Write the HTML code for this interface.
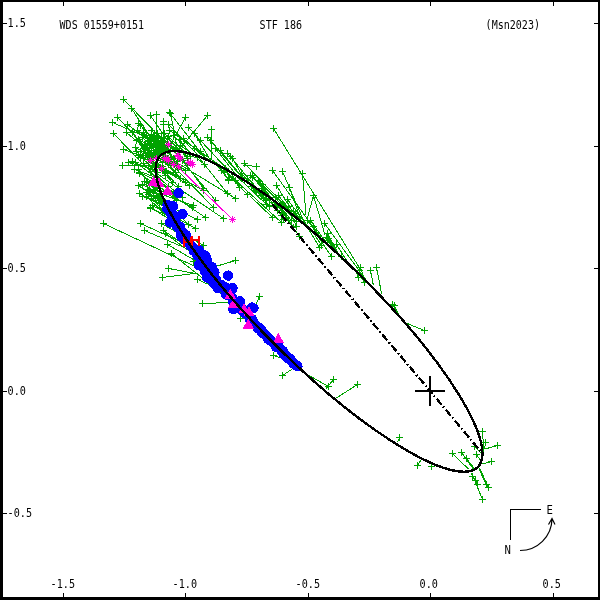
<!DOCTYPE html><html><head><meta charset="utf-8"><title>WDS 01559+0151 STF 186 (Msn2023)</title><style>html,body{margin:0;padding:0;background:#fff}svg{display:block}</style></head><body><svg width="600" height="600" viewBox="0 0 600 600"><rect width="600" height="600" fill="#fff"/><g shape-rendering="crispEdges" fill="none">
<line x1="482.5" y1="431.5" x2="484.0" y2="453.0" stroke="#00a300" stroke-width="1"/>
<path d="M479.0 431.5H486.0M482.5 428.0V435.0" stroke="#00a300" stroke-width="1"/>
<line x1="485.5" y1="442.5" x2="484.5" y2="449.0" stroke="#00a300" stroke-width="1"/>
<path d="M482.0 442.5H489.0M485.5 439.0V446.0" stroke="#00a300" stroke-width="1"/>
<line x1="497.5" y1="445.5" x2="485.0" y2="449.0" stroke="#00a300" stroke-width="1"/>
<path d="M494.0 445.5H501.0M497.5 442.0V449.0" stroke="#00a300" stroke-width="1"/>
<line x1="474.5" y1="446.5" x2="481.0" y2="453.0" stroke="#00a300" stroke-width="1"/>
<path d="M471.0 446.5H478.0M474.5 443.0V450.0" stroke="#00a300" stroke-width="1"/>
<line x1="476.5" y1="454.5" x2="481.0" y2="461.0" stroke="#00a300" stroke-width="1"/>
<path d="M473.0 454.5H480.0M476.5 451.0V458.0" stroke="#00a300" stroke-width="1"/>
<line x1="491.5" y1="461.5" x2="482.5" y2="464.0" stroke="#00a300" stroke-width="1"/>
<path d="M488.0 461.5H495.0M491.5 458.0V465.0" stroke="#00a300" stroke-width="1"/>
<line x1="452.5" y1="453.5" x2="468.7" y2="469.3" stroke="#00a300" stroke-width="1"/>
<path d="M449.0 453.5H456.0M452.5 450.0V457.0" stroke="#00a300" stroke-width="1"/>
<line x1="461.5" y1="452.5" x2="474.0" y2="470.0" stroke="#00a300" stroke-width="1"/>
<path d="M458.0 452.5H465.0M461.5 449.0V456.0" stroke="#00a300" stroke-width="1"/>
<line x1="466.5" y1="458.5" x2="475.0" y2="469.5" stroke="#00a300" stroke-width="1"/>
<path d="M463.0 458.5H470.0M466.5 455.0V462.0" stroke="#00a300" stroke-width="1"/>
<line x1="486.5" y1="484.5" x2="478.7" y2="468.7" stroke="#00a300" stroke-width="1"/>
<path d="M483.0 484.5H490.0M486.5 481.0V488.0" stroke="#00a300" stroke-width="1"/>
<line x1="488.5" y1="487.5" x2="479.5" y2="468.0" stroke="#00a300" stroke-width="1"/>
<path d="M485.0 487.5H492.0M488.5 484.0V491.0" stroke="#00a300" stroke-width="1"/>
<line x1="472.5" y1="476.5" x2="471.3" y2="472.7" stroke="#00a300" stroke-width="1"/>
<path d="M469.0 476.5H476.0M472.5 473.0V480.0" stroke="#00a300" stroke-width="1"/>
<line x1="475.5" y1="480.5" x2="471.3" y2="472.7" stroke="#00a300" stroke-width="1"/>
<path d="M472.0 480.5H479.0M475.5 477.0V484.0" stroke="#00a300" stroke-width="1"/>
<line x1="477.5" y1="484.5" x2="471.5" y2="472.7" stroke="#00a300" stroke-width="1"/>
<path d="M474.0 484.5H481.0M477.5 481.0V488.0" stroke="#00a300" stroke-width="1"/>
<line x1="482.5" y1="499.5" x2="471.5" y2="472.7" stroke="#00a300" stroke-width="1"/>
<path d="M479.0 499.5H486.0M482.5 496.0V503.0" stroke="#00a300" stroke-width="1"/>
<line x1="417.5" y1="465.5" x2="421.0" y2="460.0" stroke="#00a300" stroke-width="1"/>
<path d="M414.0 465.5H421.0M417.5 462.0V469.0" stroke="#00a300" stroke-width="1"/>
<line x1="431.5" y1="466.5" x2="431.1" y2="462.9" stroke="#00a300" stroke-width="1"/>
<path d="M428.0 466.5H435.0M431.5 463.0V470.0" stroke="#00a300" stroke-width="1"/>
<line x1="399.5" y1="437.5" x2="397.5" y2="442.5" stroke="#00a300" stroke-width="1"/>
<path d="M396.0 437.5H403.0M399.5 434.0V441.0" stroke="#00a300" stroke-width="1"/>
<line x1="357.5" y1="384.5" x2="336.3" y2="398.0" stroke="#00a300" stroke-width="1"/>
<path d="M354.0 384.5H361.0M357.5 381.0V388.0" stroke="#00a300" stroke-width="1"/>
<line x1="333.5" y1="379.5" x2="325.5" y2="389.5" stroke="#00a300" stroke-width="1"/>
<path d="M330.0 379.5H337.0M333.5 376.0V383.0" stroke="#00a300" stroke-width="1"/>
<line x1="328.5" y1="386.5" x2="309.3" y2="375.7" stroke="#00a300" stroke-width="1"/>
<path d="M325.0 386.5H332.0M328.5 383.0V390.0" stroke="#00a300" stroke-width="1"/>
<line x1="282.5" y1="375.5" x2="292.5" y2="368.8" stroke="#00a300" stroke-width="1"/>
<path d="M279.0 375.5H286.0M282.5 372.0V379.0" stroke="#00a300" stroke-width="1"/>
<line x1="273.5" y1="355.5" x2="293.0" y2="362.1" stroke="#00a300" stroke-width="1"/>
<path d="M270.0 355.5H277.0M273.5 352.0V359.0" stroke="#00a300" stroke-width="1"/>
<line x1="259.5" y1="296.5" x2="255.8" y2="304.5" stroke="#00a300" stroke-width="1"/>
<path d="M256.0 296.5H263.0M259.5 293.0V300.0" stroke="#00a300" stroke-width="1"/>
<line x1="240.5" y1="318.5" x2="241.5" y2="312.0" stroke="#00a300" stroke-width="1"/>
<path d="M237.0 318.5H244.0M240.5 315.0V322.0" stroke="#00a300" stroke-width="1"/>
<line x1="235.5" y1="260.5" x2="216.3" y2="266.3" stroke="#00a300" stroke-width="1"/>
<path d="M232.0 260.5H239.0M235.5 257.0V264.0" stroke="#00a300" stroke-width="1"/>
<line x1="202.5" y1="303.5" x2="230.0" y2="302.5" stroke="#00a300" stroke-width="1"/>
<path d="M199.0 303.5H206.0M202.5 300.0V307.0" stroke="#00a300" stroke-width="1"/>
<line x1="197.5" y1="279.5" x2="226.8" y2="292.5" stroke="#00a300" stroke-width="1"/>
<path d="M194.0 279.5H201.0M197.5 276.0V283.0" stroke="#00a300" stroke-width="1"/>
<line x1="203.5" y1="245.5" x2="182.5" y2="233.3" stroke="#00a300" stroke-width="1"/>
<path d="M200.0 245.5H207.0M203.5 242.0V249.0" stroke="#00a300" stroke-width="1"/>
<line x1="424.5" y1="330.5" x2="406.0" y2="323.0" stroke="#00a300" stroke-width="1"/>
<path d="M421.0 330.5H428.0M424.5 327.0V334.0" stroke="#00a300" stroke-width="1"/>
<line x1="392.5" y1="304.5" x2="402.3" y2="319.9" stroke="#00a300" stroke-width="1"/>
<path d="M389.0 304.5H396.0M392.5 301.0V308.0" stroke="#00a300" stroke-width="1"/>
<line x1="394.5" y1="305.5" x2="399.0" y2="316.2" stroke="#00a300" stroke-width="1"/>
<path d="M391.0 305.5H398.0M394.5 302.0V309.0" stroke="#00a300" stroke-width="1"/>
<line x1="376.5" y1="267.5" x2="381.7" y2="294.2" stroke="#00a300" stroke-width="1"/>
<path d="M373.0 267.5H380.0M376.5 264.0V271.0" stroke="#00a300" stroke-width="1"/>
<line x1="370.5" y1="270.5" x2="373.3" y2="285.0" stroke="#00a300" stroke-width="1"/>
<path d="M367.0 270.5H374.0M370.5 267.0V274.0" stroke="#00a300" stroke-width="1"/>
<line x1="360.5" y1="267.5" x2="364.2" y2="279.3" stroke="#00a300" stroke-width="1"/>
<path d="M357.0 267.5H364.0M360.5 264.0V271.0" stroke="#00a300" stroke-width="1"/>
<line x1="359.5" y1="270.5" x2="362.8" y2="277.9" stroke="#00a300" stroke-width="1"/>
<path d="M356.0 270.5H363.0M359.5 267.0V274.0" stroke="#00a300" stroke-width="1"/>
<line x1="358.5" y1="277.5" x2="355.4" y2="270.6" stroke="#00a300" stroke-width="1"/>
<path d="M355.0 277.5H362.0M358.5 274.0V281.0" stroke="#00a300" stroke-width="1"/>
<line x1="364.5" y1="282.5" x2="360.2" y2="275.4" stroke="#00a300" stroke-width="1"/>
<path d="M361.0 282.5H368.0M364.5 279.0V286.0" stroke="#00a300" stroke-width="1"/>
<line x1="341.5" y1="256.5" x2="342.8" y2="258.6" stroke="#00a300" stroke-width="1"/>
<path d="M338.0 256.5H345.0M341.5 253.0V260.0" stroke="#00a300" stroke-width="1"/>
<line x1="331.5" y1="256.5" x2="317.0" y2="235.3" stroke="#00a300" stroke-width="1"/>
<path d="M328.0 256.5H335.0M331.5 253.0V260.0" stroke="#00a300" stroke-width="1"/>
<line x1="336.5" y1="244.5" x2="349.8" y2="265.2" stroke="#00a300" stroke-width="1"/>
<path d="M333.0 244.5H340.0M336.5 241.0V248.0" stroke="#00a300" stroke-width="1"/>
<line x1="319.5" y1="247.5" x2="307.5" y2="227.3" stroke="#00a300" stroke-width="1"/>
<path d="M316.0 247.5H323.0M319.5 244.0V251.0" stroke="#00a300" stroke-width="1"/>
<line x1="321.5" y1="245.5" x2="312.9" y2="231.9" stroke="#00a300" stroke-width="1"/>
<path d="M318.0 245.5H325.0M321.5 242.0V249.0" stroke="#00a300" stroke-width="1"/>
<line x1="327.5" y1="233.5" x2="339.7" y2="255.7" stroke="#00a300" stroke-width="1"/>
<path d="M324.0 233.5H331.0M327.5 230.0V237.0" stroke="#00a300" stroke-width="1"/>
<line x1="326.5" y1="237.5" x2="337.8" y2="253.9" stroke="#00a300" stroke-width="1"/>
<path d="M323.0 237.5H330.0M326.5 234.0V241.0" stroke="#00a300" stroke-width="1"/>
<line x1="327.5" y1="240.5" x2="334.3" y2="250.7" stroke="#00a300" stroke-width="1"/>
<path d="M324.0 240.5H331.0M327.5 237.0V244.0" stroke="#00a300" stroke-width="1"/>
<line x1="328.5" y1="238.5" x2="340.6" y2="256.6" stroke="#00a300" stroke-width="1"/>
<path d="M325.0 238.5H332.0M328.5 235.0V242.0" stroke="#00a300" stroke-width="1"/>
<line x1="324.5" y1="223.5" x2="369.7" y2="284.9" stroke="#00a300" stroke-width="1"/>
<path d="M321.0 223.5H328.0M324.5 220.0V227.0" stroke="#00a300" stroke-width="1"/>
<line x1="313.5" y1="226.5" x2="322.8" y2="240.4" stroke="#00a300" stroke-width="1"/>
<path d="M310.0 226.5H317.0M313.5 223.0V230.0" stroke="#00a300" stroke-width="1"/>
<line x1="310.5" y1="220.5" x2="327.6" y2="244.7" stroke="#00a300" stroke-width="1"/>
<path d="M307.0 220.5H314.0M310.5 217.0V224.0" stroke="#00a300" stroke-width="1"/>
<line x1="299.5" y1="236.5" x2="274.5" y2="201.2" stroke="#00a300" stroke-width="1"/>
<path d="M296.0 236.5H303.0M299.5 233.0V240.0" stroke="#00a300" stroke-width="1"/>
<line x1="296.5" y1="221.5" x2="283.2" y2="207.8" stroke="#00a300" stroke-width="1"/>
<path d="M293.0 221.5H300.0M296.5 218.0V225.0" stroke="#00a300" stroke-width="1"/>
<line x1="293.5" y1="211.5" x2="301.1" y2="222.0" stroke="#00a300" stroke-width="1"/>
<path d="M290.0 211.5H297.0M293.5 208.0V215.0" stroke="#00a300" stroke-width="1"/>
<line x1="281.5" y1="215.5" x2="266.9" y2="195.6" stroke="#00a300" stroke-width="1"/>
<path d="M278.0 215.5H285.0M281.5 212.0V219.0" stroke="#00a300" stroke-width="1"/>
<line x1="281.5" y1="222.5" x2="220.1" y2="166.2" stroke="#00a300" stroke-width="1"/>
<path d="M278.0 222.5H285.0M281.5 219.0V226.0" stroke="#00a300" stroke-width="1"/>
<line x1="272.5" y1="217.5" x2="250.0" y2="196.0" stroke="#00a300" stroke-width="1"/>
<path d="M269.0 217.5H276.0M272.5 214.0V221.0" stroke="#00a300" stroke-width="1"/>
<line x1="273.5" y1="128.5" x2="362.0" y2="272.0" stroke="#00a300" stroke-width="1"/>
<path d="M270.0 128.5H277.0M273.5 125.0V132.0" stroke="#00a300" stroke-width="1"/>
<line x1="302.5" y1="173.5" x2="306.0" y2="215.0" stroke="#00a300" stroke-width="1"/>
<path d="M299.0 173.5H306.0M302.5 170.0V177.0" stroke="#00a300" stroke-width="1"/>
<line x1="313.5" y1="195.5" x2="325.0" y2="235.0" stroke="#00a300" stroke-width="1"/>
<path d="M310.0 195.5H317.0M313.5 192.0V199.0" stroke="#00a300" stroke-width="1"/>
<line x1="313.5" y1="195.5" x2="307.5" y2="217.5" stroke="#00a300" stroke-width="1"/>
<path d="M310.0 195.5H317.0M313.5 192.0V199.0" stroke="#00a300" stroke-width="1"/>
<line x1="289.5" y1="187.5" x2="301.7" y2="222.4" stroke="#00a300" stroke-width="1"/>
<path d="M286.0 187.5H293.0M289.5 184.0V191.0" stroke="#00a300" stroke-width="1"/>
<line x1="276.5" y1="185.5" x2="297.2" y2="218.8" stroke="#00a300" stroke-width="1"/>
<path d="M273.0 185.5H280.0M276.5 182.0V189.0" stroke="#00a300" stroke-width="1"/>
<line x1="282.5" y1="171.5" x2="305.8" y2="225.9" stroke="#00a300" stroke-width="1"/>
<path d="M279.0 171.5H286.0M282.5 168.0V175.0" stroke="#00a300" stroke-width="1"/>
<line x1="272.5" y1="170.5" x2="322.6" y2="240.3" stroke="#00a300" stroke-width="1"/>
<path d="M269.0 170.5H276.0M272.5 167.0V174.0" stroke="#00a300" stroke-width="1"/>
<line x1="260.5" y1="183.5" x2="291.8" y2="214.5" stroke="#00a300" stroke-width="1"/>
<path d="M257.0 183.5H264.0M260.5 180.0V187.0" stroke="#00a300" stroke-width="1"/>
<line x1="252.5" y1="177.5" x2="275.7" y2="202.1" stroke="#00a300" stroke-width="1"/>
<path d="M249.0 177.5H256.0M252.5 174.0V181.0" stroke="#00a300" stroke-width="1"/>
<line x1="256.5" y1="166.5" x2="243.0" y2="165.0" stroke="#00a300" stroke-width="1"/>
<path d="M253.0 166.5H260.0M256.5 163.0V170.0" stroke="#00a300" stroke-width="1"/>
<line x1="275.5" y1="197.5" x2="284.0" y2="208.4" stroke="#00a300" stroke-width="1"/>
<path d="M272.0 197.5H279.0M275.5 194.0V201.0" stroke="#00a300" stroke-width="1"/>
<line x1="280.5" y1="203.5" x2="282.6" y2="207.3" stroke="#00a300" stroke-width="1"/>
<path d="M277.0 203.5H284.0M280.5 200.0V207.0" stroke="#00a300" stroke-width="1"/>
<line x1="258.5" y1="180.5" x2="272.6" y2="199.8" stroke="#00a300" stroke-width="1"/>
<path d="M255.0 180.5H262.0M258.5 177.0V184.0" stroke="#00a300" stroke-width="1"/>
<line x1="262.5" y1="184.5" x2="287.9" y2="211.4" stroke="#00a300" stroke-width="1"/>
<path d="M259.0 184.5H266.0M262.5 181.0V188.0" stroke="#00a300" stroke-width="1"/>
<line x1="241.5" y1="173.5" x2="252.3" y2="185.5" stroke="#00a300" stroke-width="1"/>
<path d="M238.0 173.5H245.0M241.5 170.0V177.0" stroke="#00a300" stroke-width="1"/>
<line x1="244.5" y1="163.5" x2="299.2" y2="220.4" stroke="#00a300" stroke-width="1"/>
<path d="M241.0 163.5H248.0M244.5 160.0V167.0" stroke="#00a300" stroke-width="1"/>
<line x1="232.5" y1="158.5" x2="245.2" y2="180.9" stroke="#00a300" stroke-width="1"/>
<path d="M229.0 158.5H236.0M232.5 155.0V162.0" stroke="#00a300" stroke-width="1"/>
<line x1="227.5" y1="153.5" x2="257.9" y2="189.4" stroke="#00a300" stroke-width="1"/>
<path d="M224.0 153.5H231.0M227.5 150.0V157.0" stroke="#00a300" stroke-width="1"/>
<line x1="220.5" y1="150.5" x2="244.9" y2="180.7" stroke="#00a300" stroke-width="1"/>
<path d="M217.0 150.5H224.0M220.5 147.0V154.0" stroke="#00a300" stroke-width="1"/>
<line x1="215.5" y1="148.5" x2="236.9" y2="175.8" stroke="#00a300" stroke-width="1"/>
<path d="M212.0 148.5H219.0M215.5 145.0V152.0" stroke="#00a300" stroke-width="1"/>
<line x1="210.5" y1="140.5" x2="246.9" y2="182.0" stroke="#00a300" stroke-width="1"/>
<path d="M207.0 140.5H214.0M210.5 137.0V144.0" stroke="#00a300" stroke-width="1"/>
<line x1="207.5" y1="137.5" x2="244.8" y2="180.7" stroke="#00a300" stroke-width="1"/>
<path d="M204.0 137.5H211.0M207.5 134.0V141.0" stroke="#00a300" stroke-width="1"/>
<line x1="207.5" y1="115.5" x2="177.5" y2="151.5" stroke="#00a300" stroke-width="1"/>
<path d="M204.0 115.5H211.0M207.5 112.0V119.0" stroke="#00a300" stroke-width="1"/>
<line x1="194.5" y1="133.5" x2="211.5" y2="161.9" stroke="#00a300" stroke-width="1"/>
<path d="M191.0 133.5H198.0M194.5 130.0V137.0" stroke="#00a300" stroke-width="1"/>
<line x1="188.5" y1="127.5" x2="228.7" y2="170.9" stroke="#00a300" stroke-width="1"/>
<path d="M185.0 127.5H192.0M188.5 124.0V131.0" stroke="#00a300" stroke-width="1"/>
<line x1="185.5" y1="117.5" x2="166.0" y2="152.5" stroke="#00a300" stroke-width="1"/>
<path d="M182.0 117.5H189.0M185.5 114.0V121.0" stroke="#00a300" stroke-width="1"/>
<line x1="183.5" y1="138.5" x2="207.5" y2="160.1" stroke="#00a300" stroke-width="1"/>
<path d="M180.0 138.5H187.0M183.5 135.0V142.0" stroke="#00a300" stroke-width="1"/>
<line x1="200.5" y1="140.5" x2="230.0" y2="171.7" stroke="#00a300" stroke-width="1"/>
<path d="M197.0 140.5H204.0M200.5 137.0V144.0" stroke="#00a300" stroke-width="1"/>
<line x1="180.5" y1="145.5" x2="193.1" y2="154.5" stroke="#00a300" stroke-width="1"/>
<path d="M177.0 145.5H184.0M180.5 142.0V149.0" stroke="#00a300" stroke-width="1"/>
<line x1="200.5" y1="151.5" x2="207.9" y2="160.3" stroke="#00a300" stroke-width="1"/>
<path d="M197.0 151.5H204.0M200.5 148.0V155.0" stroke="#00a300" stroke-width="1"/>
<line x1="247.5" y1="194.5" x2="220.2" y2="166.2" stroke="#00a300" stroke-width="1"/>
<path d="M244.0 194.5H251.0M247.5 191.0V198.0" stroke="#00a300" stroke-width="1"/>
<line x1="235.5" y1="198.5" x2="162.7" y2="153.8" stroke="#00a300" stroke-width="1"/>
<path d="M232.0 198.5H239.0M235.5 195.0V202.0" stroke="#00a300" stroke-width="1"/>
<line x1="227.5" y1="193.5" x2="197.7" y2="156.1" stroke="#00a300" stroke-width="1"/>
<path d="M224.0 193.5H231.0M227.5 190.0V197.0" stroke="#00a300" stroke-width="1"/>
<line x1="239.5" y1="187.5" x2="225.1" y2="168.9" stroke="#00a300" stroke-width="1"/>
<path d="M236.0 187.5H243.0M239.5 184.0V191.0" stroke="#00a300" stroke-width="1"/>
<line x1="215.5" y1="200.5" x2="174.2" y2="151.0" stroke="#00a300" stroke-width="1"/>
<path d="M212.0 200.5H219.0M215.5 197.0V204.0" stroke="#00a300" stroke-width="1"/>
<line x1="203.5" y1="188.5" x2="176.7" y2="151.1" stroke="#00a300" stroke-width="1"/>
<path d="M200.0 188.5H207.0M203.5 185.0V192.0" stroke="#00a300" stroke-width="1"/>
<line x1="252.5" y1="175.5" x2="268.4" y2="196.7" stroke="#00a300" stroke-width="1"/>
<path d="M249.0 175.5H256.0M252.5 172.0V179.0" stroke="#00a300" stroke-width="1"/>
<line x1="230.5" y1="156.5" x2="256.1" y2="188.1" stroke="#00a300" stroke-width="1"/>
<path d="M227.0 156.5H234.0M230.5 153.0V160.0" stroke="#00a300" stroke-width="1"/>
<line x1="203.5" y1="190.5" x2="156.2" y2="163.8" stroke="#00a300" stroke-width="1"/>
<path d="M200.0 190.5H207.0M203.5 187.0V194.0" stroke="#00a300" stroke-width="1"/>
<line x1="213.5" y1="207.5" x2="162.0" y2="154.3" stroke="#00a300" stroke-width="1"/>
<path d="M210.0 207.5H217.0M213.5 204.0V211.0" stroke="#00a300" stroke-width="1"/>
<line x1="223.5" y1="218.5" x2="155.9" y2="173.0" stroke="#00a300" stroke-width="1"/>
<path d="M220.0 218.5H227.0M223.5 215.0V222.0" stroke="#00a300" stroke-width="1"/>
<line x1="205.5" y1="217.5" x2="158.8" y2="186.3" stroke="#00a300" stroke-width="1"/>
<path d="M202.0 217.5H209.0M205.5 214.0V221.0" stroke="#00a300" stroke-width="1"/>
<line x1="197.5" y1="219.5" x2="166.3" y2="204.8" stroke="#00a300" stroke-width="1"/>
<path d="M194.0 219.5H201.0M197.5 216.0V223.0" stroke="#00a300" stroke-width="1"/>
<line x1="192.5" y1="207.5" x2="159.9" y2="189.8" stroke="#00a300" stroke-width="1"/>
<path d="M189.0 207.5H196.0M192.5 204.0V211.0" stroke="#00a300" stroke-width="1"/>
<line x1="195.5" y1="228.5" x2="171.5" y2="214.9" stroke="#00a300" stroke-width="1"/>
<path d="M192.0 228.5H199.0M195.5 225.0V232.0" stroke="#00a300" stroke-width="1"/>
<line x1="188.5" y1="224.5" x2="162.9" y2="197.3" stroke="#00a300" stroke-width="1"/>
<path d="M185.0 224.5H192.0M188.5 221.0V228.0" stroke="#00a300" stroke-width="1"/>
<line x1="193.5" y1="205.5" x2="161.6" y2="194.3" stroke="#00a300" stroke-width="1"/>
<path d="M190.0 205.5H197.0M193.5 202.0V209.0" stroke="#00a300" stroke-width="1"/>
<line x1="193.5" y1="261.5" x2="204.1" y2="264.1" stroke="#00a300" stroke-width="1"/>
<path d="M190.0 261.5H197.0M193.5 258.0V265.0" stroke="#00a300" stroke-width="1"/>
<line x1="123.5" y1="99.5" x2="173.8" y2="151.0" stroke="#00a300" stroke-width="1"/>
<path d="M120.0 99.5H127.0M123.5 96.0V103.0" stroke="#00a300" stroke-width="1"/>
<line x1="131.5" y1="108.5" x2="161.7" y2="154.5" stroke="#00a300" stroke-width="1"/>
<path d="M128.0 108.5H135.0M131.5 105.0V112.0" stroke="#00a300" stroke-width="1"/>
<line x1="117.5" y1="117.5" x2="157.7" y2="159.3" stroke="#00a300" stroke-width="1"/>
<path d="M114.0 117.5H121.0M117.5 114.0V121.0" stroke="#00a300" stroke-width="1"/>
<line x1="112.5" y1="122.5" x2="180.3" y2="151.5" stroke="#00a300" stroke-width="1"/>
<path d="M109.0 122.5H116.0M112.5 119.0V126.0" stroke="#00a300" stroke-width="1"/>
<line x1="113.5" y1="133.5" x2="156.5" y2="178.0" stroke="#00a300" stroke-width="1"/>
<path d="M110.0 133.5H117.0M113.5 130.0V137.0" stroke="#00a300" stroke-width="1"/>
<line x1="126.5" y1="132.5" x2="158.0" y2="158.8" stroke="#00a300" stroke-width="1"/>
<path d="M123.0 132.5H130.0M126.5 129.0V136.0" stroke="#00a300" stroke-width="1"/>
<line x1="138.5" y1="123.5" x2="166.4" y2="152.1" stroke="#00a300" stroke-width="1"/>
<path d="M135.0 123.5H142.0M138.5 120.0V127.0" stroke="#00a300" stroke-width="1"/>
<line x1="137.5" y1="130.5" x2="167.7" y2="151.8" stroke="#00a300" stroke-width="1"/>
<path d="M134.0 130.5H141.0M137.5 127.0V134.0" stroke="#00a300" stroke-width="1"/>
<line x1="156.5" y1="114.5" x2="157.0" y2="161.0" stroke="#00a300" stroke-width="1"/>
<path d="M153.0 114.5H160.0M156.5 111.0V118.0" stroke="#00a300" stroke-width="1"/>
<line x1="163.5" y1="121.5" x2="164.0" y2="153.0" stroke="#00a300" stroke-width="1"/>
<path d="M160.0 121.5H167.0M163.5 118.0V125.0" stroke="#00a300" stroke-width="1"/>
<line x1="163.5" y1="124.5" x2="165.0" y2="153.0" stroke="#00a300" stroke-width="1"/>
<path d="M160.0 124.5H167.0M163.5 121.0V128.0" stroke="#00a300" stroke-width="1"/>
<line x1="169.5" y1="112.5" x2="205.0" y2="158.0" stroke="#00a300" stroke-width="1"/>
<path d="M166.0 112.5H173.0M169.5 109.0V116.0" stroke="#00a300" stroke-width="1"/>
<line x1="170.5" y1="113.5" x2="178.0" y2="152.0" stroke="#00a300" stroke-width="1"/>
<path d="M167.0 113.5H174.0M170.5 110.0V117.0" stroke="#00a300" stroke-width="1"/>
<line x1="169.5" y1="130.5" x2="224.8" y2="168.7" stroke="#00a300" stroke-width="1"/>
<path d="M166.0 130.5H173.0M169.5 127.0V134.0" stroke="#00a300" stroke-width="1"/>
<line x1="211.5" y1="129.5" x2="212.0" y2="160.0" stroke="#00a300" stroke-width="1"/>
<path d="M208.0 129.5H215.0M211.5 126.0V133.0" stroke="#00a300" stroke-width="1"/>
<line x1="123.5" y1="149.5" x2="156.5" y2="161.5" stroke="#00a300" stroke-width="1"/>
<path d="M120.0 149.5H127.0M123.5 146.0V153.0" stroke="#00a300" stroke-width="1"/>
<line x1="136.5" y1="151.5" x2="155.9" y2="173.0" stroke="#00a300" stroke-width="1"/>
<path d="M133.0 151.5H140.0M136.5 148.0V155.0" stroke="#00a300" stroke-width="1"/>
<line x1="128.5" y1="162.5" x2="156.5" y2="170.0" stroke="#00a300" stroke-width="1"/>
<path d="M125.0 162.5H132.0M128.5 159.0V166.0" stroke="#00a300" stroke-width="1"/>
<line x1="122.5" y1="165.5" x2="156.0" y2="166.0" stroke="#00a300" stroke-width="1"/>
<path d="M119.0 165.5H126.0M122.5 162.0V169.0" stroke="#00a300" stroke-width="1"/>
<line x1="132.5" y1="161.5" x2="157.0" y2="172.0" stroke="#00a300" stroke-width="1"/>
<path d="M129.0 161.5H136.0M132.5 158.0V165.0" stroke="#00a300" stroke-width="1"/>
<line x1="134.5" y1="169.5" x2="157.5" y2="178.0" stroke="#00a300" stroke-width="1"/>
<path d="M131.0 169.5H138.0M134.5 166.0V173.0" stroke="#00a300" stroke-width="1"/>
<line x1="139.5" y1="172.5" x2="158.0" y2="181.0" stroke="#00a300" stroke-width="1"/>
<path d="M136.0 172.5H143.0M139.5 169.0V176.0" stroke="#00a300" stroke-width="1"/>
<line x1="143.5" y1="132.5" x2="160.8" y2="155.2" stroke="#00a300" stroke-width="1"/>
<path d="M140.0 132.5H147.0M143.5 129.0V136.0" stroke="#00a300" stroke-width="1"/>
<line x1="146.5" y1="135.5" x2="165.1" y2="152.6" stroke="#00a300" stroke-width="1"/>
<path d="M143.0 135.5H150.0M146.5 132.0V139.0" stroke="#00a300" stroke-width="1"/>
<line x1="151.5" y1="134.5" x2="168.6" y2="151.5" stroke="#00a300" stroke-width="1"/>
<path d="M148.0 134.5H155.0M151.5 131.0V138.0" stroke="#00a300" stroke-width="1"/>
<line x1="142.5" y1="137.5" x2="160.4" y2="155.6" stroke="#00a300" stroke-width="1"/>
<path d="M139.0 137.5H146.0M142.5 134.0V141.0" stroke="#00a300" stroke-width="1"/>
<line x1="148.5" y1="140.5" x2="159.3" y2="156.8" stroke="#00a300" stroke-width="1"/>
<path d="M145.0 140.5H152.0M148.5 137.0V144.0" stroke="#00a300" stroke-width="1"/>
<line x1="153.5" y1="138.5" x2="165.9" y2="152.3" stroke="#00a300" stroke-width="1"/>
<path d="M150.0 138.5H157.0M153.5 135.0V142.0" stroke="#00a300" stroke-width="1"/>
<line x1="157.5" y1="136.5" x2="170.8" y2="151.2" stroke="#00a300" stroke-width="1"/>
<path d="M154.0 136.5H161.0M157.5 133.0V140.0" stroke="#00a300" stroke-width="1"/>
<line x1="159.5" y1="143.5" x2="167.6" y2="151.8" stroke="#00a300" stroke-width="1"/>
<path d="M156.0 143.5H163.0M159.5 140.0V147.0" stroke="#00a300" stroke-width="1"/>
<line x1="155.5" y1="145.5" x2="167.8" y2="151.7" stroke="#00a300" stroke-width="1"/>
<path d="M152.0 145.5H159.0M155.5 142.0V149.0" stroke="#00a300" stroke-width="1"/>
<line x1="150.5" y1="145.5" x2="159.1" y2="157.0" stroke="#00a300" stroke-width="1"/>
<path d="M147.0 145.5H154.0M150.5 142.0V149.0" stroke="#00a300" stroke-width="1"/>
<line x1="145.5" y1="144.5" x2="157.8" y2="159.0" stroke="#00a300" stroke-width="1"/>
<path d="M142.0 144.5H149.0M145.5 141.0V148.0" stroke="#00a300" stroke-width="1"/>
<line x1="158.5" y1="148.5" x2="163.2" y2="153.5" stroke="#00a300" stroke-width="1"/>
<path d="M155.0 148.5H162.0M158.5 145.0V152.0" stroke="#00a300" stroke-width="1"/>
<line x1="153.5" y1="150.5" x2="162.4" y2="154.0" stroke="#00a300" stroke-width="1"/>
<path d="M150.0 150.5H157.0M153.5 147.0V154.0" stroke="#00a300" stroke-width="1"/>
<line x1="149.5" y1="152.5" x2="158.2" y2="158.4" stroke="#00a300" stroke-width="1"/>
<path d="M146.0 152.5H153.0M149.5 149.0V156.0" stroke="#00a300" stroke-width="1"/>
<line x1="145.5" y1="155.5" x2="155.8" y2="166.6" stroke="#00a300" stroke-width="1"/>
<path d="M142.0 155.5H149.0M145.5 152.0V159.0" stroke="#00a300" stroke-width="1"/>
<line x1="140.5" y1="157.5" x2="156.2" y2="163.7" stroke="#00a300" stroke-width="1"/>
<path d="M137.0 157.5H144.0M140.5 154.0V161.0" stroke="#00a300" stroke-width="1"/>
<line x1="135.5" y1="162.5" x2="156.6" y2="177.8" stroke="#00a300" stroke-width="1"/>
<path d="M132.0 162.5H139.0M135.5 159.0V166.0" stroke="#00a300" stroke-width="1"/>
<line x1="143.5" y1="163.5" x2="156.6" y2="177.9" stroke="#00a300" stroke-width="1"/>
<path d="M140.0 163.5H147.0M143.5 160.0V167.0" stroke="#00a300" stroke-width="1"/>
<line x1="148.5" y1="165.5" x2="155.7" y2="168.9" stroke="#00a300" stroke-width="1"/>
<path d="M145.0 165.5H152.0M148.5 162.0V169.0" stroke="#00a300" stroke-width="1"/>
<line x1="138.5" y1="169.5" x2="166.3" y2="205.0" stroke="#00a300" stroke-width="1"/>
<path d="M135.0 169.5H142.0M138.5 166.0V173.0" stroke="#00a300" stroke-width="1"/>
<line x1="150.5" y1="171.5" x2="156.4" y2="177.0" stroke="#00a300" stroke-width="1"/>
<path d="M147.0 171.5H154.0M150.5 168.0V175.0" stroke="#00a300" stroke-width="1"/>
<line x1="103.5" y1="223.5" x2="194.0" y2="266.0" stroke="#00a300" stroke-width="1"/>
<path d="M100.0 223.5H107.0M103.5 220.0V227.0" stroke="#00a300" stroke-width="1"/>
<line x1="140.5" y1="223.5" x2="186.0" y2="244.0" stroke="#00a300" stroke-width="1"/>
<path d="M137.0 223.5H144.0M140.5 220.0V227.0" stroke="#00a300" stroke-width="1"/>
<line x1="144.5" y1="230.5" x2="190.0" y2="250.0" stroke="#00a300" stroke-width="1"/>
<path d="M141.0 230.5H148.0M144.5 227.0V234.0" stroke="#00a300" stroke-width="1"/>
<line x1="161.5" y1="223.5" x2="185.0" y2="237.2" stroke="#00a300" stroke-width="1"/>
<path d="M158.0 223.5H165.0M161.5 220.0V227.0" stroke="#00a300" stroke-width="1"/>
<line x1="163.5" y1="230.5" x2="194.7" y2="251.5" stroke="#00a300" stroke-width="1"/>
<path d="M160.0 230.5H167.0M163.5 227.0V234.0" stroke="#00a300" stroke-width="1"/>
<line x1="165.5" y1="233.5" x2="200.6" y2="259.6" stroke="#00a300" stroke-width="1"/>
<path d="M162.0 233.5H169.0M165.5 230.0V237.0" stroke="#00a300" stroke-width="1"/>
<line x1="167.5" y1="244.5" x2="206.2" y2="266.9" stroke="#00a300" stroke-width="1"/>
<path d="M164.0 244.5H171.0M167.5 241.0V248.0" stroke="#00a300" stroke-width="1"/>
<line x1="171.5" y1="253.5" x2="241.4" y2="309.2" stroke="#00a300" stroke-width="1"/>
<path d="M168.0 253.5H175.0M171.5 250.0V257.0" stroke="#00a300" stroke-width="1"/>
<line x1="168.5" y1="268.5" x2="198.0" y2="274.0" stroke="#00a300" stroke-width="1"/>
<path d="M165.0 268.5H172.0M168.5 265.0V272.0" stroke="#00a300" stroke-width="1"/>
<line x1="162.5" y1="277.5" x2="198.0" y2="273.0" stroke="#00a300" stroke-width="1"/>
<path d="M159.0 277.5H166.0M162.5 274.0V281.0" stroke="#00a300" stroke-width="1"/>
<line x1="139.5" y1="193.5" x2="168.2" y2="208.7" stroke="#00a300" stroke-width="1"/>
<path d="M136.0 193.5H143.0M139.5 190.0V197.0" stroke="#00a300" stroke-width="1"/>
<line x1="152.5" y1="205.5" x2="172.6" y2="216.9" stroke="#00a300" stroke-width="1"/>
<path d="M149.0 205.5H156.0M152.5 202.0V209.0" stroke="#00a300" stroke-width="1"/>
<line x1="146.5" y1="196.5" x2="178.9" y2="227.6" stroke="#00a300" stroke-width="1"/>
<path d="M143.0 196.5H150.0M146.5 193.0V200.0" stroke="#00a300" stroke-width="1"/>
<line x1="138.5" y1="185.5" x2="166.6" y2="205.5" stroke="#00a300" stroke-width="1"/>
<path d="M135.0 185.5H142.0M138.5 182.0V189.0" stroke="#00a300" stroke-width="1"/>
<line x1="147.5" y1="189.5" x2="162.9" y2="197.3" stroke="#00a300" stroke-width="1"/>
<path d="M144.0 189.5H151.0M147.5 186.0V193.0" stroke="#00a300" stroke-width="1"/>
<line x1="150.5" y1="191.5" x2="168.1" y2="208.6" stroke="#00a300" stroke-width="1"/>
<path d="M147.0 191.5H154.0M150.5 188.0V195.0" stroke="#00a300" stroke-width="1"/>
<line x1="148.5" y1="194.5" x2="180.6" y2="230.4" stroke="#00a300" stroke-width="1"/>
<path d="M145.0 194.5H152.0M148.5 191.0V198.0" stroke="#00a300" stroke-width="1"/>
<line x1="153.5" y1="195.5" x2="165.1" y2="202.4" stroke="#00a300" stroke-width="1"/>
<path d="M150.0 195.5H157.0M153.5 192.0V199.0" stroke="#00a300" stroke-width="1"/>
<line x1="155.5" y1="198.5" x2="165.0" y2="202.2" stroke="#00a300" stroke-width="1"/>
<path d="M152.0 198.5H159.0M155.5 195.0V202.0" stroke="#00a300" stroke-width="1"/>
<line x1="158.5" y1="200.5" x2="166.8" y2="205.9" stroke="#00a300" stroke-width="1"/>
<path d="M155.0 200.5H162.0M158.5 197.0V204.0" stroke="#00a300" stroke-width="1"/>
<line x1="151.5" y1="198.5" x2="168.7" y2="209.6" stroke="#00a300" stroke-width="1"/>
<path d="M148.0 198.5H155.0M151.5 195.0V202.0" stroke="#00a300" stroke-width="1"/>
<line x1="146.5" y1="192.5" x2="166.3" y2="204.9" stroke="#00a300" stroke-width="1"/>
<path d="M143.0 192.5H150.0M146.5 189.0V196.0" stroke="#00a300" stroke-width="1"/>
<line x1="154.5" y1="190.5" x2="165.4" y2="203.0" stroke="#00a300" stroke-width="1"/>
<path d="M151.0 190.5H158.0M154.5 187.0V194.0" stroke="#00a300" stroke-width="1"/>
<line x1="170.5" y1="165.5" x2="158.5" y2="157.9" stroke="#00a300" stroke-width="1"/>
<path d="M167.0 165.5H174.0M170.5 162.0V169.0" stroke="#00a300" stroke-width="1"/>
<line x1="175.5" y1="172.5" x2="161.5" y2="154.7" stroke="#00a300" stroke-width="1"/>
<path d="M172.0 172.5H179.0M175.5 169.0V176.0" stroke="#00a300" stroke-width="1"/>
<line x1="180.5" y1="178.5" x2="156.0" y2="164.7" stroke="#00a300" stroke-width="1"/>
<path d="M177.0 178.5H184.0M180.5 175.0V182.0" stroke="#00a300" stroke-width="1"/>
<line x1="185.5" y1="170.5" x2="162.3" y2="154.1" stroke="#00a300" stroke-width="1"/>
<path d="M182.0 170.5H189.0M185.5 167.0V174.0" stroke="#00a300" stroke-width="1"/>
<line x1="165.5" y1="175.5" x2="155.8" y2="165.9" stroke="#00a300" stroke-width="1"/>
<path d="M162.0 175.5H169.0M165.5 172.0V179.0" stroke="#00a300" stroke-width="1"/>
<line x1="172.5" y1="182.5" x2="156.2" y2="163.7" stroke="#00a300" stroke-width="1"/>
<path d="M169.0 182.5H176.0M172.5 179.0V186.0" stroke="#00a300" stroke-width="1"/>
<line x1="178.5" y1="186.5" x2="156.4" y2="162.9" stroke="#00a300" stroke-width="1"/>
<path d="M175.0 186.5H182.0M178.5 183.0V190.0" stroke="#00a300" stroke-width="1"/>
<line x1="185.5" y1="182.5" x2="159.0" y2="157.2" stroke="#00a300" stroke-width="1"/>
<path d="M182.0 182.5H189.0M185.5 179.0V186.0" stroke="#00a300" stroke-width="1"/>
<line x1="182.5" y1="197.5" x2="156.2" y2="175.9" stroke="#00a300" stroke-width="1"/>
<path d="M179.0 197.5H186.0M182.5 194.0V201.0" stroke="#00a300" stroke-width="1"/>
<line x1="176.5" y1="200.5" x2="158.8" y2="186.4" stroke="#00a300" stroke-width="1"/>
<path d="M173.0 200.5H180.0M176.5 197.0V204.0" stroke="#00a300" stroke-width="1"/>
<line x1="168.5" y1="160.5" x2="162.4" y2="154.0" stroke="#00a300" stroke-width="1"/>
<path d="M165.0 160.5H172.0M168.5 157.0V164.0" stroke="#00a300" stroke-width="1"/>
<line x1="174.5" y1="158.5" x2="167.0" y2="151.9" stroke="#00a300" stroke-width="1"/>
<path d="M171.0 158.5H178.0M174.5 155.0V162.0" stroke="#00a300" stroke-width="1"/>
<line x1="182.5" y1="160.5" x2="173.2" y2="151.0" stroke="#00a300" stroke-width="1"/>
<path d="M179.0 160.5H186.0M182.5 157.0V164.0" stroke="#00a300" stroke-width="1"/>
<line x1="176.5" y1="166.5" x2="163.9" y2="153.1" stroke="#00a300" stroke-width="1"/>
<path d="M173.0 166.5H180.0M176.5 163.0V170.0" stroke="#00a300" stroke-width="1"/>
<line x1="163.5" y1="168.5" x2="156.5" y2="162.5" stroke="#00a300" stroke-width="1"/>
<path d="M160.0 168.5H167.0M163.5 165.0V172.0" stroke="#00a300" stroke-width="1"/>
<line x1="168.5" y1="186.5" x2="156.0" y2="174.0" stroke="#00a300" stroke-width="1"/>
<path d="M165.0 186.5H172.0M168.5 183.0V190.0" stroke="#00a300" stroke-width="1"/>
<line x1="173.5" y1="193.5" x2="156.6" y2="177.8" stroke="#00a300" stroke-width="1"/>
<path d="M170.0 193.5H177.0M173.5 190.0V197.0" stroke="#00a300" stroke-width="1"/>
<line x1="171.5" y1="157.5" x2="167.6" y2="151.8" stroke="#00a300" stroke-width="1"/>
<path d="M168.0 157.5H175.0M171.5 154.0V161.0" stroke="#00a300" stroke-width="1"/>
<line x1="144.5" y1="147.5" x2="157.4" y2="160.0" stroke="#00a300" stroke-width="1"/>
<path d="M141.0 147.5H148.0M144.5 144.0V151.0" stroke="#00a300" stroke-width="1"/>
<line x1="168.5" y1="162.5" x2="159.9" y2="156.1" stroke="#00a300" stroke-width="1"/>
<path d="M165.0 162.5H172.0M168.5 159.0V166.0" stroke="#00a300" stroke-width="1"/>
<line x1="161.5" y1="137.5" x2="178.1" y2="151.2" stroke="#00a300" stroke-width="1"/>
<path d="M158.0 137.5H165.0M161.5 134.0V141.0" stroke="#00a300" stroke-width="1"/>
<line x1="157.5" y1="172.5" x2="155.7" y2="171.1" stroke="#00a300" stroke-width="1"/>
<path d="M154.0 172.5H161.0M157.5 169.0V176.0" stroke="#00a300" stroke-width="1"/>
<line x1="154.5" y1="141.5" x2="164.3" y2="152.9" stroke="#00a300" stroke-width="1"/>
<path d="M151.0 141.5H158.0M154.5 138.0V145.0" stroke="#00a300" stroke-width="1"/>
<line x1="151.5" y1="130.5" x2="176.6" y2="151.1" stroke="#00a300" stroke-width="1"/>
<path d="M148.0 130.5H155.0M151.5 127.0V134.0" stroke="#00a300" stroke-width="1"/>
<line x1="155.5" y1="154.5" x2="158.9" y2="157.3" stroke="#00a300" stroke-width="1"/>
<path d="M152.0 154.5H159.0M155.5 151.0V158.0" stroke="#00a300" stroke-width="1"/>
<line x1="132.5" y1="132.5" x2="155.7" y2="169.7" stroke="#00a300" stroke-width="1"/>
<path d="M129.0 132.5H136.0M132.5 129.0V136.0" stroke="#00a300" stroke-width="1"/>
<line x1="154.5" y1="167.5" x2="155.7" y2="167.7" stroke="#00a300" stroke-width="1"/>
<path d="M151.0 167.5H158.0M154.5 164.0V171.0" stroke="#00a300" stroke-width="1"/>
<line x1="157.5" y1="149.5" x2="164.1" y2="153.0" stroke="#00a300" stroke-width="1"/>
<path d="M154.0 149.5H161.0M157.5 146.0V153.0" stroke="#00a300" stroke-width="1"/>
<line x1="159.5" y1="154.5" x2="160.6" y2="155.4" stroke="#00a300" stroke-width="1"/>
<path d="M156.0 154.5H163.0M159.5 151.0V158.0" stroke="#00a300" stroke-width="1"/>
<line x1="160.5" y1="142.5" x2="168.7" y2="151.5" stroke="#00a300" stroke-width="1"/>
<path d="M157.0 142.5H164.0M160.5 139.0V146.0" stroke="#00a300" stroke-width="1"/>
<line x1="149.5" y1="140.5" x2="163.0" y2="153.6" stroke="#00a300" stroke-width="1"/>
<path d="M146.0 140.5H153.0M149.5 137.0V144.0" stroke="#00a300" stroke-width="1"/>
<line x1="168.5" y1="164.5" x2="159.0" y2="157.2" stroke="#00a300" stroke-width="1"/>
<path d="M165.0 164.5H172.0M168.5 161.0V168.0" stroke="#00a300" stroke-width="1"/>
<line x1="170.5" y1="163.5" x2="161.9" y2="154.3" stroke="#00a300" stroke-width="1"/>
<path d="M167.0 163.5H174.0M170.5 160.0V167.0" stroke="#00a300" stroke-width="1"/>
<line x1="165.5" y1="155.5" x2="163.5" y2="153.3" stroke="#00a300" stroke-width="1"/>
<path d="M162.0 155.5H169.0M165.5 152.0V159.0" stroke="#00a300" stroke-width="1"/>
<line x1="127.5" y1="124.5" x2="165.1" y2="152.6" stroke="#00a300" stroke-width="1"/>
<path d="M124.0 124.5H131.0M127.5 121.0V128.0" stroke="#00a300" stroke-width="1"/>
<line x1="138.5" y1="155.5" x2="155.7" y2="169.4" stroke="#00a300" stroke-width="1"/>
<path d="M135.0 155.5H142.0M138.5 152.0V159.0" stroke="#00a300" stroke-width="1"/>
<line x1="165.5" y1="147.5" x2="168.8" y2="151.5" stroke="#00a300" stroke-width="1"/>
<path d="M162.0 147.5H169.0M165.5 144.0V151.0" stroke="#00a300" stroke-width="1"/>
<line x1="160.5" y1="148.5" x2="165.8" y2="152.3" stroke="#00a300" stroke-width="1"/>
<path d="M157.0 148.5H164.0M160.5 145.0V152.0" stroke="#00a300" stroke-width="1"/>
<line x1="148.5" y1="159.5" x2="155.9" y2="165.4" stroke="#00a300" stroke-width="1"/>
<path d="M145.0 159.5H152.0M148.5 156.0V163.0" stroke="#00a300" stroke-width="1"/>
<line x1="145.5" y1="153.5" x2="156.6" y2="162.3" stroke="#00a300" stroke-width="1"/>
<path d="M142.0 153.5H149.0M145.5 150.0V157.0" stroke="#00a300" stroke-width="1"/>
<line x1="136.5" y1="140.5" x2="158.2" y2="158.4" stroke="#00a300" stroke-width="1"/>
<path d="M133.0 140.5H140.0M136.5 137.0V144.0" stroke="#00a300" stroke-width="1"/>
<line x1="151.5" y1="145.5" x2="170.4" y2="151.3" stroke="#00a300" stroke-width="1"/>
<path d="M148.0 145.5H155.0M151.5 142.0V149.0" stroke="#00a300" stroke-width="1"/>
<line x1="143.5" y1="148.5" x2="157.9" y2="158.9" stroke="#00a300" stroke-width="1"/>
<path d="M140.0 148.5H147.0M143.5 145.0V152.0" stroke="#00a300" stroke-width="1"/>
<line x1="147.5" y1="144.5" x2="158.6" y2="157.7" stroke="#00a300" stroke-width="1"/>
<path d="M144.0 144.5H151.0M147.5 141.0V148.0" stroke="#00a300" stroke-width="1"/>
<line x1="151.5" y1="135.5" x2="176.3" y2="151.1" stroke="#00a300" stroke-width="1"/>
<path d="M148.0 135.5H155.0M151.5 132.0V139.0" stroke="#00a300" stroke-width="1"/>
<line x1="149.5" y1="156.5" x2="156.5" y2="162.5" stroke="#00a300" stroke-width="1"/>
<path d="M146.0 156.5H153.0M149.5 153.0V160.0" stroke="#00a300" stroke-width="1"/>
<line x1="154.5" y1="140.5" x2="164.1" y2="153.0" stroke="#00a300" stroke-width="1"/>
<path d="M151.0 140.5H158.0M154.5 137.0V144.0" stroke="#00a300" stroke-width="1"/>
<line x1="139.5" y1="141.5" x2="157.1" y2="160.8" stroke="#00a300" stroke-width="1"/>
<path d="M136.0 141.5H143.0M139.5 138.0V145.0" stroke="#00a300" stroke-width="1"/>
<line x1="156.5" y1="142.5" x2="163.8" y2="153.2" stroke="#00a300" stroke-width="1"/>
<path d="M153.0 142.5H160.0M156.5 139.0V146.0" stroke="#00a300" stroke-width="1"/>
<line x1="156.5" y1="147.5" x2="166.6" y2="152.1" stroke="#00a300" stroke-width="1"/>
<path d="M153.0 147.5H160.0M156.5 144.0V151.0" stroke="#00a300" stroke-width="1"/>
<line x1="150.5" y1="154.5" x2="157.4" y2="160.0" stroke="#00a300" stroke-width="1"/>
<path d="M147.0 154.5H154.0M150.5 151.0V158.0" stroke="#00a300" stroke-width="1"/>
<line x1="162.5" y1="162.5" x2="157.8" y2="159.1" stroke="#00a300" stroke-width="1"/>
<path d="M159.0 162.5H166.0M162.5 159.0V166.0" stroke="#00a300" stroke-width="1"/>
<line x1="164.5" y1="133.5" x2="179.8" y2="151.4" stroke="#00a300" stroke-width="1"/>
<path d="M161.0 133.5H168.0M164.5 130.0V137.0" stroke="#00a300" stroke-width="1"/>
<line x1="157.5" y1="133.5" x2="170.1" y2="151.3" stroke="#00a300" stroke-width="1"/>
<path d="M154.0 133.5H161.0M157.5 130.0V137.0" stroke="#00a300" stroke-width="1"/>
<line x1="155.5" y1="138.5" x2="169.7" y2="151.3" stroke="#00a300" stroke-width="1"/>
<path d="M152.0 138.5H159.0M155.5 135.0V142.0" stroke="#00a300" stroke-width="1"/>
<line x1="161.5" y1="142.5" x2="168.5" y2="151.6" stroke="#00a300" stroke-width="1"/>
<path d="M158.0 142.5H165.0M161.5 139.0V146.0" stroke="#00a300" stroke-width="1"/>
<line x1="138.5" y1="139.5" x2="164.2" y2="153.0" stroke="#00a300" stroke-width="1"/>
<path d="M135.0 139.5H142.0M138.5 136.0V143.0" stroke="#00a300" stroke-width="1"/>
<line x1="179.5" y1="139.5" x2="190.6" y2="153.8" stroke="#00a300" stroke-width="1"/>
<path d="M176.0 139.5H183.0M179.5 136.0V143.0" stroke="#00a300" stroke-width="1"/>
<line x1="162.5" y1="140.5" x2="182.8" y2="151.9" stroke="#00a300" stroke-width="1"/>
<path d="M159.0 140.5H166.0M162.5 137.0V144.0" stroke="#00a300" stroke-width="1"/>
<line x1="140.5" y1="154.5" x2="155.7" y2="167.4" stroke="#00a300" stroke-width="1"/>
<path d="M137.0 154.5H144.0M140.5 151.0V158.0" stroke="#00a300" stroke-width="1"/>
<line x1="150.5" y1="115.5" x2="174.6" y2="151.0" stroke="#00a300" stroke-width="1"/>
<path d="M147.0 115.5H154.0M150.5 112.0V119.0" stroke="#00a300" stroke-width="1"/>
<line x1="161.5" y1="143.5" x2="171.0" y2="151.2" stroke="#00a300" stroke-width="1"/>
<path d="M158.0 143.5H165.0M161.5 140.0V147.0" stroke="#00a300" stroke-width="1"/>
<line x1="148.5" y1="157.5" x2="156.1" y2="164.3" stroke="#00a300" stroke-width="1"/>
<path d="M145.0 157.5H152.0M148.5 154.0V161.0" stroke="#00a300" stroke-width="1"/>
<line x1="161.5" y1="148.5" x2="164.6" y2="152.8" stroke="#00a300" stroke-width="1"/>
<path d="M158.0 148.5H165.0M161.5 145.0V152.0" stroke="#00a300" stroke-width="1"/>
<line x1="153.5" y1="135.5" x2="169.2" y2="151.4" stroke="#00a300" stroke-width="1"/>
<path d="M150.0 135.5H157.0M153.5 132.0V139.0" stroke="#00a300" stroke-width="1"/>
<line x1="167.5" y1="138.5" x2="181.4" y2="151.6" stroke="#00a300" stroke-width="1"/>
<path d="M164.0 138.5H171.0M167.5 135.0V142.0" stroke="#00a300" stroke-width="1"/>
<line x1="170.5" y1="150.5" x2="170.9" y2="151.2" stroke="#00a300" stroke-width="1"/>
<path d="M167.0 150.5H174.0M170.5 147.0V154.0" stroke="#00a300" stroke-width="1"/>
<line x1="144.5" y1="144.5" x2="157.5" y2="159.8" stroke="#00a300" stroke-width="1"/>
<path d="M141.0 144.5H148.0M144.5 141.0V148.0" stroke="#00a300" stroke-width="1"/>
<line x1="165.5" y1="173.5" x2="155.8" y2="166.4" stroke="#00a300" stroke-width="1"/>
<path d="M162.0 173.5H169.0M165.5 170.0V177.0" stroke="#00a300" stroke-width="1"/>
<line x1="159.5" y1="144.5" x2="163.1" y2="153.6" stroke="#00a300" stroke-width="1"/>
<path d="M156.0 144.5H163.0M159.5 141.0V148.0" stroke="#00a300" stroke-width="1"/>
<line x1="135.5" y1="147.5" x2="157.5" y2="159.8" stroke="#00a300" stroke-width="1"/>
<path d="M132.0 147.5H139.0M135.5 144.0V151.0" stroke="#00a300" stroke-width="1"/>
<line x1="162.5" y1="145.5" x2="167.6" y2="151.8" stroke="#00a300" stroke-width="1"/>
<path d="M159.0 145.5H166.0M162.5 142.0V149.0" stroke="#00a300" stroke-width="1"/>
<line x1="139.5" y1="173.5" x2="158.9" y2="186.8" stroke="#00a300" stroke-width="1"/>
<path d="M136.0 173.5H143.0M139.5 170.0V177.0" stroke="#00a300" stroke-width="1"/>
<line x1="168.5" y1="124.5" x2="199.4" y2="156.7" stroke="#00a300" stroke-width="1"/>
<path d="M165.0 124.5H172.0M168.5 121.0V128.0" stroke="#00a300" stroke-width="1"/>
<line x1="140.5" y1="151.5" x2="155.8" y2="166.5" stroke="#00a300" stroke-width="1"/>
<path d="M137.0 151.5H144.0M140.5 148.0V155.0" stroke="#00a300" stroke-width="1"/>
<line x1="162.5" y1="152.5" x2="163.4" y2="153.4" stroke="#00a300" stroke-width="1"/>
<path d="M159.0 152.5H166.0M162.5 149.0V156.0" stroke="#00a300" stroke-width="1"/>
<line x1="140.5" y1="125.5" x2="164.6" y2="152.8" stroke="#00a300" stroke-width="1"/>
<path d="M137.0 125.5H144.0M140.5 122.0V129.0" stroke="#00a300" stroke-width="1"/>
<line x1="168.5" y1="136.5" x2="185.2" y2="152.4" stroke="#00a300" stroke-width="1"/>
<path d="M165.0 136.5H172.0M168.5 133.0V140.0" stroke="#00a300" stroke-width="1"/>
<line x1="173.5" y1="135.5" x2="191.9" y2="154.2" stroke="#00a300" stroke-width="1"/>
<path d="M170.0 135.5H177.0M173.5 132.0V139.0" stroke="#00a300" stroke-width="1"/>
<line x1="178.5" y1="169.5" x2="163.4" y2="153.4" stroke="#00a300" stroke-width="1"/>
<path d="M175.0 169.5H182.0M178.5 166.0V173.0" stroke="#00a300" stroke-width="1"/>
<line x1="162.5" y1="166.5" x2="156.5" y2="162.6" stroke="#00a300" stroke-width="1"/>
<path d="M159.0 166.5H166.0M162.5 163.0V170.0" stroke="#00a300" stroke-width="1"/>
<line x1="176.5" y1="193.5" x2="157.8" y2="183.1" stroke="#00a300" stroke-width="1"/>
<path d="M173.0 193.5H180.0M176.5 190.0V197.0" stroke="#00a300" stroke-width="1"/>
<line x1="178.5" y1="168.5" x2="158.7" y2="157.7" stroke="#00a300" stroke-width="1"/>
<path d="M175.0 168.5H182.0M178.5 165.0V172.0" stroke="#00a300" stroke-width="1"/>
<line x1="187.5" y1="165.5" x2="177.6" y2="151.2" stroke="#00a300" stroke-width="1"/>
<path d="M184.0 165.5H191.0M187.5 162.0V169.0" stroke="#00a300" stroke-width="1"/>
<line x1="160.5" y1="167.5" x2="156.3" y2="163.4" stroke="#00a300" stroke-width="1"/>
<path d="M157.0 167.5H164.0M160.5 164.0V171.0" stroke="#00a300" stroke-width="1"/>
<line x1="173.5" y1="158.5" x2="168.5" y2="151.6" stroke="#00a300" stroke-width="1"/>
<path d="M170.0 158.5H177.0M173.5 155.0V162.0" stroke="#00a300" stroke-width="1"/>
<line x1="165.5" y1="172.5" x2="155.8" y2="166.5" stroke="#00a300" stroke-width="1"/>
<path d="M162.0 172.5H169.0M165.5 169.0V176.0" stroke="#00a300" stroke-width="1"/>
<line x1="177.5" y1="161.5" x2="166.5" y2="152.1" stroke="#00a300" stroke-width="1"/>
<path d="M174.0 161.5H181.0M177.5 158.0V165.0" stroke="#00a300" stroke-width="1"/>
<line x1="189.5" y1="185.5" x2="155.9" y2="165.3" stroke="#00a300" stroke-width="1"/>
<path d="M186.0 185.5H193.0M189.5 182.0V189.0" stroke="#00a300" stroke-width="1"/>
<line x1="266.5" y1="200.5" x2="259.8" y2="190.6" stroke="#00a300" stroke-width="1"/>
<path d="M263.0 200.5H270.0M266.5 197.0V204.0" stroke="#00a300" stroke-width="1"/>
<line x1="190.5" y1="156.5" x2="188.0" y2="153.0" stroke="#00a300" stroke-width="1"/>
<path d="M187.0 156.5H194.0M190.5 153.0V160.0" stroke="#00a300" stroke-width="1"/>
<line x1="194.5" y1="148.5" x2="210.8" y2="161.6" stroke="#00a300" stroke-width="1"/>
<path d="M191.0 148.5H198.0M194.5 145.0V152.0" stroke="#00a300" stroke-width="1"/>
<line x1="296.5" y1="226.5" x2="290.8" y2="213.6" stroke="#00a300" stroke-width="1"/>
<path d="M293.0 226.5H300.0M296.5 223.0V230.0" stroke="#00a300" stroke-width="1"/>
<line x1="187.5" y1="158.5" x2="181.7" y2="151.7" stroke="#00a300" stroke-width="1"/>
<path d="M184.0 158.5H191.0M187.5 155.0V162.0" stroke="#00a300" stroke-width="1"/>
<line x1="269.5" y1="205.5" x2="248.8" y2="183.2" stroke="#00a300" stroke-width="1"/>
<path d="M266.0 205.5H273.0M269.5 202.0V209.0" stroke="#00a300" stroke-width="1"/>
<line x1="225.5" y1="168.5" x2="227.8" y2="170.4" stroke="#00a300" stroke-width="1"/>
<path d="M222.0 168.5H229.0M225.5 165.0V172.0" stroke="#00a300" stroke-width="1"/>
<line x1="251.5" y1="186.5" x2="249.5" y2="183.7" stroke="#00a300" stroke-width="1"/>
<path d="M248.0 186.5H255.0M251.5 183.0V190.0" stroke="#00a300" stroke-width="1"/>
<line x1="278.5" y1="195.5" x2="295.6" y2="217.5" stroke="#00a300" stroke-width="1"/>
<path d="M275.0 195.5H282.0M278.5 192.0V199.0" stroke="#00a300" stroke-width="1"/>
<line x1="266.5" y1="204.5" x2="234.8" y2="174.5" stroke="#00a300" stroke-width="1"/>
<path d="M263.0 204.5H270.0M266.5 201.0V208.0" stroke="#00a300" stroke-width="1"/>
<line x1="282.5" y1="203.5" x2="289.1" y2="212.3" stroke="#00a300" stroke-width="1"/>
<path d="M279.0 203.5H286.0M282.5 200.0V207.0" stroke="#00a300" stroke-width="1"/>
<line x1="265.5" y1="200.5" x2="257.2" y2="188.8" stroke="#00a300" stroke-width="1"/>
<path d="M262.0 200.5H269.0M265.5 197.0V204.0" stroke="#00a300" stroke-width="1"/>
<line x1="295.5" y1="213.5" x2="297.6" y2="219.1" stroke="#00a300" stroke-width="1"/>
<path d="M292.0 213.5H299.0M295.5 210.0V217.0" stroke="#00a300" stroke-width="1"/>
<line x1="277.5" y1="210.5" x2="260.6" y2="191.2" stroke="#00a300" stroke-width="1"/>
<path d="M274.0 210.5H281.0M277.5 207.0V214.0" stroke="#00a300" stroke-width="1"/>
<line x1="283.5" y1="219.5" x2="271.8" y2="199.2" stroke="#00a300" stroke-width="1"/>
<path d="M280.0 219.5H287.0M283.5 216.0V223.0" stroke="#00a300" stroke-width="1"/>
<line x1="229.5" y1="177.5" x2="224.6" y2="168.6" stroke="#00a300" stroke-width="1"/>
<path d="M226.0 177.5H233.0M229.5 174.0V181.0" stroke="#00a300" stroke-width="1"/>
<line x1="254.5" y1="190.5" x2="250.7" y2="184.5" stroke="#00a300" stroke-width="1"/>
<path d="M251.0 190.5H258.0M254.5 187.0V194.0" stroke="#00a300" stroke-width="1"/>
<line x1="261.5" y1="195.5" x2="252.2" y2="185.5" stroke="#00a300" stroke-width="1"/>
<path d="M258.0 195.5H265.0M261.5 192.0V199.0" stroke="#00a300" stroke-width="1"/>
<line x1="307.5" y1="220.5" x2="321.0" y2="238.9" stroke="#00a300" stroke-width="1"/>
<path d="M304.0 220.5H311.0M307.5 217.0V224.0" stroke="#00a300" stroke-width="1"/>
<line x1="228.5" y1="180.5" x2="218.5" y2="165.4" stroke="#00a300" stroke-width="1"/>
<path d="M225.0 180.5H232.0M228.5 177.0V184.0" stroke="#00a300" stroke-width="1"/>
<line x1="269.5" y1="206.5" x2="251.9" y2="185.3" stroke="#00a300" stroke-width="1"/>
<path d="M266.0 206.5H273.0M269.5 203.0V210.0" stroke="#00a300" stroke-width="1"/>
<line x1="283.5" y1="213.5" x2="271.9" y2="199.3" stroke="#00a300" stroke-width="1"/>
<path d="M280.0 213.5H287.0M283.5 210.0V217.0" stroke="#00a300" stroke-width="1"/>
<line x1="197.5" y1="157.5" x2="195.7" y2="155.4" stroke="#00a300" stroke-width="1"/>
<path d="M194.0 157.5H201.0M197.5 154.0V161.0" stroke="#00a300" stroke-width="1"/>
<line x1="256.5" y1="192.5" x2="247.5" y2="182.4" stroke="#00a300" stroke-width="1"/>
<path d="M253.0 192.5H260.0M256.5 189.0V196.0" stroke="#00a300" stroke-width="1"/>
<line x1="244.5" y1="180.5" x2="243.5" y2="179.8" stroke="#00a300" stroke-width="1"/>
<path d="M241.0 180.5H248.0M244.5 177.0V184.0" stroke="#00a300" stroke-width="1"/>
<line x1="250.5" y1="175.5" x2="276.6" y2="202.7" stroke="#00a300" stroke-width="1"/>
<path d="M247.0 175.5H254.0M250.5 172.0V179.0" stroke="#00a300" stroke-width="1"/>
<line x1="261.5" y1="188.5" x2="267.8" y2="196.3" stroke="#00a300" stroke-width="1"/>
<path d="M258.0 188.5H265.0M261.5 185.0V192.0" stroke="#00a300" stroke-width="1"/>
<line x1="187.5" y1="156.5" x2="183.7" y2="152.0" stroke="#00a300" stroke-width="1"/>
<path d="M184.0 156.5H191.0M187.5 153.0V160.0" stroke="#00a300" stroke-width="1"/>
<line x1="221.5" y1="170.5" x2="215.9" y2="164.0" stroke="#00a300" stroke-width="1"/>
<path d="M218.0 170.5H225.0M221.5 167.0V174.0" stroke="#00a300" stroke-width="1"/>
<line x1="204.5" y1="164.5" x2="193.0" y2="154.5" stroke="#00a300" stroke-width="1"/>
<path d="M201.0 164.5H208.0M204.5 161.0V168.0" stroke="#00a300" stroke-width="1"/>
<line x1="291.5" y1="220.5" x2="277.4" y2="203.4" stroke="#00a300" stroke-width="1"/>
<path d="M288.0 220.5H295.0M291.5 217.0V224.0" stroke="#00a300" stroke-width="1"/>
<line x1="288.5" y1="220.5" x2="277.3" y2="203.3" stroke="#00a300" stroke-width="1"/>
<path d="M285.0 220.5H292.0M288.5 217.0V224.0" stroke="#00a300" stroke-width="1"/>
<line x1="224.5" y1="172.5" x2="217.3" y2="164.7" stroke="#00a300" stroke-width="1"/>
<path d="M221.0 172.5H228.0M224.5 169.0V176.0" stroke="#00a300" stroke-width="1"/>
<line x1="235.5" y1="180.5" x2="230.2" y2="171.8" stroke="#00a300" stroke-width="1"/>
<path d="M232.0 180.5H239.0M235.5 177.0V184.0" stroke="#00a300" stroke-width="1"/>
<line x1="287.5" y1="199.5" x2="310.9" y2="230.1" stroke="#00a300" stroke-width="1"/>
<path d="M284.0 199.5H291.0M287.5 196.0V203.0" stroke="#00a300" stroke-width="1"/>
<line x1="228.5" y1="179.5" x2="218.7" y2="165.5" stroke="#00a300" stroke-width="1"/>
<path d="M225.0 179.5H232.0M228.5 176.0V183.0" stroke="#00a300" stroke-width="1"/>
<line x1="254.5" y1="190.5" x2="251.8" y2="185.2" stroke="#00a300" stroke-width="1"/>
<path d="M251.0 190.5H258.0M254.5 187.0V194.0" stroke="#00a300" stroke-width="1"/>
<line x1="247.5" y1="180.5" x2="248.4" y2="183.0" stroke="#00a300" stroke-width="1"/>
<path d="M244.0 180.5H251.0M247.5 177.0V184.0" stroke="#00a300" stroke-width="1"/>
<line x1="288.5" y1="206.5" x2="310.0" y2="229.4" stroke="#00a300" stroke-width="1"/>
<path d="M285.0 206.5H292.0M288.5 203.0V210.0" stroke="#00a300" stroke-width="1"/>
<line x1="293.5" y1="227.5" x2="279.4" y2="204.9" stroke="#00a300" stroke-width="1"/>
<path d="M290.0 227.5H297.0M293.5 224.0V231.0" stroke="#00a300" stroke-width="1"/>
<line x1="149.5" y1="185.5" x2="159.7" y2="189.3" stroke="#00a300" stroke-width="1"/>
<path d="M146.0 185.5H153.0M149.5 182.0V189.0" stroke="#00a300" stroke-width="1"/>
<line x1="154.5" y1="189.5" x2="160.9" y2="192.6" stroke="#00a300" stroke-width="1"/>
<path d="M151.0 189.5H158.0M154.5 186.0V193.0" stroke="#00a300" stroke-width="1"/>
<line x1="148.5" y1="194.5" x2="163.6" y2="198.9" stroke="#00a300" stroke-width="1"/>
<path d="M145.0 194.5H152.0M148.5 191.0V198.0" stroke="#00a300" stroke-width="1"/>
<line x1="159.5" y1="196.5" x2="165.2" y2="202.6" stroke="#00a300" stroke-width="1"/>
<path d="M156.0 196.5H163.0M159.5 193.0V200.0" stroke="#00a300" stroke-width="1"/>
<line x1="150.5" y1="208.5" x2="172.9" y2="217.5" stroke="#00a300" stroke-width="1"/>
<path d="M147.0 208.5H154.0M150.5 205.0V212.0" stroke="#00a300" stroke-width="1"/>
<line x1="144.5" y1="181.5" x2="161.4" y2="193.8" stroke="#00a300" stroke-width="1"/>
<path d="M141.0 181.5H148.0M144.5 178.0V185.0" stroke="#00a300" stroke-width="1"/>
<line x1="161.5" y1="199.5" x2="164.6" y2="201.3" stroke="#00a300" stroke-width="1"/>
<path d="M158.0 199.5H165.0M161.5 196.0V203.0" stroke="#00a300" stroke-width="1"/>
<line x1="150.5" y1="207.5" x2="176.6" y2="223.8" stroke="#00a300" stroke-width="1"/>
<path d="M147.0 207.5H154.0M150.5 204.0V211.0" stroke="#00a300" stroke-width="1"/>
<line x1="142.5" y1="184.5" x2="162.4" y2="196.3" stroke="#00a300" stroke-width="1"/>
<path d="M139.0 184.5H146.0M142.5 181.0V188.0" stroke="#00a300" stroke-width="1"/>
<line x1="154.5" y1="180.5" x2="157.9" y2="183.4" stroke="#00a300" stroke-width="1"/>
<path d="M151.0 180.5H158.0M154.5 177.0V184.0" stroke="#00a300" stroke-width="1"/>
<line x1="146.5" y1="181.5" x2="161.0" y2="192.7" stroke="#00a300" stroke-width="1"/>
<path d="M143.0 181.5H150.0M146.5 178.0V185.0" stroke="#00a300" stroke-width="1"/>
<line x1="159.5" y1="195.5" x2="163.0" y2="197.7" stroke="#00a300" stroke-width="1"/>
<path d="M156.0 195.5H163.0M159.5 192.0V199.0" stroke="#00a300" stroke-width="1"/>
<line x1="159.5" y1="202.5" x2="168.9" y2="210.0" stroke="#00a300" stroke-width="1"/>
<path d="M156.0 202.5H163.0M159.5 199.0V206.0" stroke="#00a300" stroke-width="1"/>
<line x1="164.5" y1="212.5" x2="176.5" y2="223.7" stroke="#00a300" stroke-width="1"/>
<path d="M161.0 212.5H168.0M164.5 209.0V216.0" stroke="#00a300" stroke-width="1"/>
<line x1="155.5" y1="186.5" x2="159.7" y2="189.2" stroke="#00a300" stroke-width="1"/>
<path d="M152.0 186.5H159.0M155.5 183.0V190.0" stroke="#00a300" stroke-width="1"/>
<line x1="142.5" y1="196.5" x2="167.1" y2="206.5" stroke="#00a300" stroke-width="1"/>
<path d="M139.0 196.5H146.0M142.5 193.0V200.0" stroke="#00a300" stroke-width="1"/>
</g>
<g shape-rendering="crispEdges">
<path d="M161.0 158.5H168.0M164.5 155.0V162.0M162.1 156.1L166.9 160.9M162.1 160.9L166.9 156.1" stroke="#ff00dc" stroke-width="1" fill="none"/><rect x="163.0" y="157.0" width="3" height="3" fill="#ff00dc"/>
<path d="M165.0 160.5H172.0M168.5 157.0V164.0M166.1 158.1L170.9 162.9M166.1 162.9L170.9 158.1" stroke="#ff00dc" stroke-width="1" fill="none"/><rect x="167.0" y="159.0" width="3" height="3" fill="#ff00dc"/>
<path d="M174.0 155.5H181.0M177.5 152.0V159.0M175.1 153.1L179.9 157.9M175.1 157.9L179.9 153.1" stroke="#ff00dc" stroke-width="1" fill="none"/><rect x="176.0" y="154.0" width="3" height="3" fill="#ff00dc"/>
<path d="M177.0 158.5H184.0M180.5 155.0V162.0M178.1 156.1L182.9 160.9M178.1 160.9L182.9 156.1" stroke="#ff00dc" stroke-width="1" fill="none"/><rect x="179.0" y="157.0" width="3" height="3" fill="#ff00dc"/>
<path d="M185.0 162.5H192.0M188.5 159.0V166.0M186.1 160.1L190.9 164.9M186.1 164.9L190.9 160.1" stroke="#ff00dc" stroke-width="1" fill="none"/><rect x="187.0" y="161.0" width="3" height="3" fill="#ff00dc"/>
<path d="M189.0 164.5H196.0M192.5 161.0V168.0M190.1 162.1L194.9 166.9M190.1 166.9L194.9 162.1" stroke="#ff00dc" stroke-width="1" fill="none"/><rect x="191.0" y="163.0" width="3" height="3" fill="#ff00dc"/>
<path d="M165.0 144.5H172.0M168.5 141.0V148.0M166.1 142.1L170.9 146.9M166.1 146.9L170.9 142.1" stroke="#ff00dc" stroke-width="1" fill="none"/><rect x="167.0" y="143.0" width="3" height="3" fill="#ff00dc"/>
<path d="M147.0 160.5H154.0M150.5 157.0V164.0M148.1 158.1L152.9 162.9M148.1 162.9L152.9 158.1" stroke="#ff00dc" stroke-width="1" fill="none"/><rect x="149.0" y="159.0" width="3" height="3" fill="#ff00dc"/>
<path d="M153.0 158.5H160.0M156.5 155.0V162.0M154.1 156.1L158.9 160.9M154.1 160.9L158.9 156.1" stroke="#ff00dc" stroke-width="1" fill="none"/><rect x="155.0" y="157.0" width="3" height="3" fill="#ff00dc"/>
<path d="M163.0 158.5H170.0M166.5 155.0V162.0M164.1 156.1L168.9 160.9M164.1 160.9L168.9 156.1" stroke="#ff00dc" stroke-width="1" fill="none"/><rect x="165.0" y="157.0" width="3" height="3" fill="#ff00dc"/>
<path d="M175.0 156.5H182.0M178.5 153.0V160.0M176.1 154.1L180.9 158.9M176.1 158.9L180.9 154.1" stroke="#ff00dc" stroke-width="1" fill="none"/><rect x="177.0" y="155.0" width="3" height="3" fill="#ff00dc"/>
<path d="M187.0 162.5H194.0M190.5 159.0V166.0M188.1 160.1L192.9 164.9M188.1 164.9L192.9 160.1" stroke="#ff00dc" stroke-width="1" fill="none"/><rect x="189.0" y="161.0" width="3" height="3" fill="#ff00dc"/>
<path d="M170.0 164.5H177.0M173.5 161.0V168.0M171.1 162.1L175.9 166.9M171.1 166.9L175.9 162.1" stroke="#ff00dc" stroke-width="1" fill="none"/><rect x="172.0" y="163.0" width="3" height="3" fill="#ff00dc"/>
<path d="M158.0 168.5H165.0M161.5 165.0V172.0M159.1 166.1L163.9 170.9M159.1 170.9L163.9 166.1" stroke="#ff00dc" stroke-width="1" fill="none"/><rect x="160.0" y="167.0" width="3" height="3" fill="#ff00dc"/>
<path d="M175.0 166.5H182.0M178.5 163.0V170.0M176.1 164.1L180.9 168.9M176.1 168.9L180.9 164.1" stroke="#ff00dc" stroke-width="1" fill="none"/><rect x="177.0" y="165.0" width="3" height="3" fill="#ff00dc"/>
<line x1="233.0" y1="219.9" x2="178.0" y2="167.0" stroke="#ff00dc" stroke-width="1"/>
<path d="M229.0 219.5H236.0M232.5 216.0V223.0M230.1 217.1L234.9 221.9M230.1 221.9L234.9 217.1" stroke="#ff00dc" stroke-width="1" fill="none"/><rect x="231.0" y="218.0" width="3" height="3" fill="#ff00dc"/>
<path d="M153.5 176.0L159.0 186.0H148.0Z" fill="#ff00dc"/>
<path d="M159 177.0L164.5 187.0H153.5Z" fill="#ff00dc"/>
<path d="M167.5 185.0L173.0 195.0H162.0Z" fill="#ff00dc"/>
<circle cx="178.5" cy="193.1" r="5.2" fill="#0000ff"/>
<circle cx="167.5" cy="205" r="5.2" fill="#0000ff"/>
<circle cx="173.1" cy="206.3" r="5.2" fill="#0000ff"/>
<circle cx="182.5" cy="213.8" r="5.2" fill="#0000ff"/>
<circle cx="171.9" cy="216.3" r="5.2" fill="#0000ff"/>
<circle cx="170" cy="222.5" r="5.2" fill="#0000ff"/>
<circle cx="176.9" cy="225" r="5.2" fill="#0000ff"/>
<circle cx="180" cy="230" r="5.2" fill="#0000ff"/>
<circle cx="181.3" cy="236.3" r="5.2" fill="#0000ff"/>
<circle cx="185" cy="240" r="5.2" fill="#0000ff"/>
<circle cx="190" cy="245" r="5.2" fill="#0000ff"/>
<circle cx="193.8" cy="248.8" r="5.2" fill="#0000ff"/>
<circle cx="198.8" cy="250" r="5.2" fill="#0000ff"/>
<circle cx="205.6" cy="256.3" r="5.2" fill="#0000ff"/>
<circle cx="198.8" cy="265" r="5.2" fill="#0000ff"/>
<circle cx="202" cy="260" r="5.2" fill="#0000ff"/>
<circle cx="205" cy="271.3" r="5.2" fill="#0000ff"/>
<circle cx="206.9" cy="277.5" r="5.2" fill="#0000ff"/>
<circle cx="214.4" cy="272.5" r="5.2" fill="#0000ff"/>
<circle cx="210" cy="266" r="5.2" fill="#0000ff"/>
<circle cx="216.3" cy="280" r="5.2" fill="#0000ff"/>
<circle cx="228.1" cy="275.6" r="5.2" fill="#0000ff"/>
<circle cx="221.3" cy="285" r="5.2" fill="#0000ff"/>
<circle cx="231.9" cy="289.4" r="5.2" fill="#0000ff"/>
<circle cx="225.6" cy="293.8" r="5.2" fill="#0000ff"/>
<circle cx="232.5" cy="288" r="5.2" fill="#0000ff"/>
<circle cx="240" cy="301.3" r="5.2" fill="#0000ff"/>
<circle cx="240" cy="302.3" r="5.2" fill="#0000ff"/>
<circle cx="233.3" cy="309" r="5.2" fill="#0000ff"/>
<circle cx="253.5" cy="308.3" r="5.2" fill="#0000ff"/>
<circle cx="251.9" cy="307.5" r="5.2" fill="#0000ff"/>
<circle cx="246" cy="314" r="5.2" fill="#0000ff"/>
<circle cx="252" cy="319" r="5.2" fill="#0000ff"/>
<circle cx="257.8" cy="327.0" r="5.2" fill="#0000ff"/>
<circle cx="258.6" cy="327.8" r="5.2" fill="#0000ff"/>
<circle cx="263.7" cy="333.1" r="5.2" fill="#0000ff"/>
<circle cx="269.6" cy="339.2" r="5.2" fill="#0000ff"/>
<circle cx="276.4" cy="346.0" r="5.2" fill="#0000ff"/>
<circle cx="281.7" cy="351.2" r="5.2" fill="#0000ff"/>
<circle cx="286.2" cy="355.5" r="5.2" fill="#0000ff"/>
<circle cx="290.9" cy="360.1" r="5.2" fill="#0000ff"/>
<circle cx="297.4" cy="366.2" r="5.2" fill="#0000ff"/>
<circle cx="167.4" cy="209.0" r="5.2" fill="#0000ff"/>
<circle cx="169.4" cy="210.8" r="5.2" fill="#0000ff"/>
<circle cx="170.8" cy="213.1" r="5.2" fill="#0000ff"/>
<circle cx="173.0" cy="214.8" r="5.2" fill="#0000ff"/>
<circle cx="171.8" cy="219.4" r="5.2" fill="#0000ff"/>
<circle cx="174.9" cy="220.3" r="5.2" fill="#0000ff"/>
<circle cx="175.0" cy="223.6" r="5.2" fill="#0000ff"/>
<circle cx="176.5" cy="225.8" r="5.2" fill="#0000ff"/>
<circle cx="179.9" cy="226.7" r="5.2" fill="#0000ff"/>
<circle cx="180.3" cy="229.9" r="5.2" fill="#0000ff"/>
<circle cx="182.1" cy="232.2" r="5.2" fill="#0000ff"/>
<circle cx="184.3" cy="233.7" r="5.2" fill="#0000ff"/>
<circle cx="186.3" cy="235.5" r="5.2" fill="#0000ff"/>
<circle cx="186.0" cy="239.2" r="5.2" fill="#0000ff"/>
<circle cx="188.1" cy="240.9" r="5.2" fill="#0000ff"/>
<circle cx="189.3" cy="243.5" r="5.2" fill="#0000ff"/>
<circle cx="190.9" cy="245.8" r="5.2" fill="#0000ff"/>
<circle cx="193.2" cy="247.5" r="5.2" fill="#0000ff"/>
<circle cx="193.7" cy="250.8" r="5.2" fill="#0000ff"/>
<circle cx="196.0" cy="252.6" r="5.2" fill="#0000ff"/>
<circle cx="197.2" cy="255.3" r="5.2" fill="#0000ff"/>
<circle cx="202.4" cy="254.5" r="5.2" fill="#0000ff"/>
<circle cx="202.1" cy="258.1" r="5.2" fill="#0000ff"/>
<circle cx="205.0" cy="259.2" r="5.2" fill="#0000ff"/>
<circle cx="207.1" cy="260.9" r="5.2" fill="#0000ff"/>
<circle cx="203.4" cy="267.3" r="5.2" fill="#0000ff"/>
<circle cx="207.4" cy="267.5" r="5.2" fill="#0000ff"/>
<circle cx="212.1" cy="267.3" r="5.2" fill="#0000ff"/>
<circle cx="213.0" cy="270.1" r="5.2" fill="#0000ff"/>
<circle cx="209.2" cy="276.7" r="5.2" fill="#0000ff"/>
<circle cx="210.8" cy="278.9" r="5.2" fill="#0000ff"/>
<circle cx="215.1" cy="279.2" r="5.2" fill="#0000ff"/>
<circle cx="214.0" cy="283.6" r="5.2" fill="#0000ff"/>
<circle cx="217.1" cy="284.8" r="5.2" fill="#0000ff"/>
<circle cx="217.6" cy="288.0" r="5.2" fill="#0000ff"/>
<circle cx="224.1" cy="286.6" r="5.2" fill="#0000ff"/>
<circle cx="226.8" cy="288.1" r="5.2" fill="#0000ff"/>
<circle cx="227.4" cy="291.3" r="5.2" fill="#0000ff"/>
<circle cx="227.6" cy="294.9" r="5.2" fill="#0000ff"/>
<circle cx="230.8" cy="296.1" r="5.2" fill="#0000ff"/>
<circle cx="232.6" cy="298.4" r="5.2" fill="#0000ff"/>
<circle cx="233.3" cy="301.6" r="5.2" fill="#0000ff"/>
<circle cx="237.0" cy="302.5" r="5.2" fill="#0000ff"/>
<circle cx="238.9" cy="304.3" r="5.2" fill="#0000ff"/>
<circle cx="238.9" cy="307.6" r="5.2" fill="#0000ff"/>
<circle cx="242.0" cy="308.5" r="5.2" fill="#0000ff"/>
<circle cx="242.9" cy="311.2" r="5.2" fill="#0000ff"/>
<circle cx="244.8" cy="313.0" r="5.2" fill="#0000ff"/>
<circle cx="247.4" cy="314.3" r="5.2" fill="#0000ff"/>
<circle cx="248.9" cy="316.5" r="5.2" fill="#0000ff"/>
<circle cx="249.7" cy="319.3" r="5.2" fill="#0000ff"/>
<circle cx="251.9" cy="320.9" r="5.2" fill="#0000ff"/>
<circle cx="253.9" cy="322.8" r="5.2" fill="#0000ff"/>
<circle cx="255.4" cy="324.9" r="5.2" fill="#0000ff"/>
<circle cx="257.1" cy="327.1" r="5.2" fill="#0000ff"/>
<circle cx="259.1" cy="328.9" r="5.2" fill="#0000ff"/>
<circle cx="261.6" cy="330.3" r="5.2" fill="#0000ff"/>
<circle cx="262.4" cy="333.1" r="5.2" fill="#0000ff"/>
<circle cx="265.1" cy="334.4" r="5.2" fill="#0000ff"/>
<circle cx="266.8" cy="336.5" r="5.2" fill="#0000ff"/>
<circle cx="268.0" cy="338.9" r="5.2" fill="#0000ff"/>
<circle cx="270.4" cy="340.5" r="5.2" fill="#0000ff"/>
<circle cx="272.8" cy="342.0" r="5.2" fill="#0000ff"/>
<circle cx="274.5" cy="344.1" r="5.2" fill="#0000ff"/>
<circle cx="275.8" cy="346.6" r="5.2" fill="#0000ff"/>
<circle cx="279.1" cy="347.3" r="5.2" fill="#0000ff"/>
<circle cx="280.8" cy="349.5" r="5.2" fill="#0000ff"/>
<circle cx="283.0" cy="351.2" r="5.2" fill="#0000ff"/>
<circle cx="283.6" cy="354.1" r="5.2" fill="#0000ff"/>
<circle cx="285.8" cy="355.8" r="5.2" fill="#0000ff"/>
<circle cx="287.4" cy="358.0" r="5.2" fill="#0000ff"/>
<circle cx="290.5" cy="358.9" r="5.2" fill="#0000ff"/>
<circle cx="291.7" cy="361.4" r="5.2" fill="#0000ff"/>
<circle cx="293.4" cy="363.5" r="5.2" fill="#0000ff"/>
<circle cx="295.9" cy="365.0" r="5.2" fill="#0000ff"/>
<path d="M230.3 288.5L235.8 298.5H224.8Z" fill="#ff00dc"/>
<path d="M233.3 298.3L238.8 308.3H227.8Z" fill="#ff00dc"/>
<path d="M244 303.0L249.5 313.0H238.5Z" fill="#ff00dc"/>
<path d="M249 306.0L254.5 316.0H243.5Z" fill="#ff00dc"/>
<path d="M248.3 318.5L253.8 328.5H242.8Z" fill="#ff00dc"/>
<path d="M278.3 332.8L283.8 342.8H272.8Z" fill="#ff00dc"/>
</g>
<path d="M184.0 237V247M191.0 237V247M184.0 241.5H191.0" stroke="#ff0000" stroke-width="2" fill="none" shape-rendering="crispEdges"/>
<path d="M191.5 235.5V245.5M198.5 235.5V245.5M191.5 240.0H198.5" stroke="#ff0000" stroke-width="2" fill="none" shape-rendering="crispEdges"/>
<ellipse cx="319.05" cy="311.4" rx="222.35" ry="54.57" transform="rotate(44.4 319.05 311.4)" fill="none" stroke="#000" stroke-width="2.4" shape-rendering="crispEdges"/>
<line x1="430.3" y1="391.2" x2="272.0" y2="203.9" stroke="#000" stroke-width="2.4" stroke-dasharray="7.5 2.6 1.5 2.6" stroke-dashoffset="4.2" shape-rendering="crispEdges"/>
<line x1="430.3" y1="391.2" x2="482.4" y2="453.6" stroke="#000" stroke-width="2.4" stroke-dasharray="7.5 2.6 1.5 2.6" stroke-dashoffset="4.2" shape-rendering="crispEdges"/>
<path d="M415 390H445V392H415ZM429 376H431V406H429Z" fill="#000" shape-rendering="crispEdges"/>
<path d="M0 0H600V600H0Z M3 2H598V597H3Z" fill="#000" fill-rule="evenodd"/>
<path d="M63.5 2V6M63.5 593V597M185.5 2V6M185.5 593V597M308.5 2V6M308.5 593V597M430.5 2V6M430.5 593V597M553.5 2V6M553.5 593V597M3 23.5H7M594 23.5H598M3 146.5H7M594 146.5H598M3 268.5H7M594 268.5H598M3 391.5H7M594 391.5H598M3 513.5H7M594 513.5H598" stroke="#000" stroke-width="1" shape-rendering="crispEdges"/>
<g font-family="'DejaVu Sans Mono', 'Liberation Mono', monospace" font-size="12.4" fill="#000">
<text x="59.6" y="29" text-anchor="start" textLength="84.4" lengthAdjust="spacingAndGlyphs">WDS 01559+0151</text>
<text x="259.6" y="29" text-anchor="start" textLength="42.4" lengthAdjust="spacingAndGlyphs">STF 186</text>
<text x="485.6" y="29" text-anchor="start" textLength="54.4" lengthAdjust="spacingAndGlyphs">(Msn2023)</text>
<text x="7.6" y="27" text-anchor="start" textLength="18.4" lengthAdjust="spacingAndGlyphs">1.5</text>
<text x="7.6" y="150" text-anchor="start" textLength="18.4" lengthAdjust="spacingAndGlyphs">1.0</text>
<text x="7.6" y="272" text-anchor="start" textLength="18.4" lengthAdjust="spacingAndGlyphs">0.5</text>
<text x="7.6" y="395" text-anchor="start" textLength="18.4" lengthAdjust="spacingAndGlyphs">0.0</text>
<text x="7.6" y="517" text-anchor="start" textLength="24.4" lengthAdjust="spacingAndGlyphs">-0.5</text>
<text x="50.6" y="588" text-anchor="start" textLength="24.4" lengthAdjust="spacingAndGlyphs">-1.5</text>
<text x="172.6" y="588" text-anchor="start" textLength="24.4" lengthAdjust="spacingAndGlyphs">-1.0</text>
<text x="295.6" y="588" text-anchor="start" textLength="24.4" lengthAdjust="spacingAndGlyphs">-0.5</text>
<text x="419.6" y="588" text-anchor="start" textLength="18.4" lengthAdjust="spacingAndGlyphs">0.0</text>
<text x="542.6" y="588" text-anchor="start" textLength="18.4" lengthAdjust="spacingAndGlyphs">0.5</text>
<text x="546.6" y="514" text-anchor="start" textLength="6.4" lengthAdjust="spacingAndGlyphs">E</text>
<text x="504.6" y="554" text-anchor="start" textLength="6.4" lengthAdjust="spacingAndGlyphs">N</text>
</g>
<path d="M510.5 540V509.5H541" stroke="#000" stroke-width="1" fill="none" shape-rendering="crispEdges"/><path d="M520 550.5A32 32 0 0 0 552 519M548.5 524.5L552 518.5L555 524.5" stroke="#000" stroke-width="1.2" fill="none"/></svg></body></html>
